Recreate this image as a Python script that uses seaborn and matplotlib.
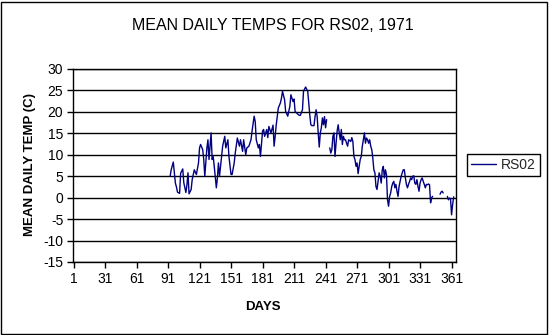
import numpy as np
import pandas as pd
import matplotlib
matplotlib.use("Agg")
import matplotlib.pyplot as plt
from matplotlib.lines import Line2D
from matplotlib.patches import Rectangle
import seaborn as sns

# ---- data ----
days = [93, 94, 96, 98, 99, 100, 102, 103, 105, 106, 108, 109, 110, 111, 113, 114,
        116, 118, 120, 121, 122, 124, 125, 126, 128, 129, 130, 131, 132, 133, 134,
        135, 137, 138, 139, 140, 142, 143, 145, 146, 148, 149, 151, 152, 154, 155,
        157, 159, 160, 162, 163, 165, 166, 168, 170, 171, 173, 174, 175, 177, 178,
        179, 181, 182, 183, 185, 186, 187, 189, 191, 192, 193, 194, 196, 198, 199,
        200, 202, 203, 205, 207, 208, 210, 211, 212, 214, 216, 217, 219, 220, 222,
        224, 225, 226, 227, 228, 230, 231, 232, 233, 234, 235, 236, 237, 238, 239,
        240, 241, 242, 243,
        245, 246, 247, 248, 249, 250, 251, 252, 253, 254, 255, 256, 257, 258, 259,
        260, 261, 262, 263, 265, 266, 267, 268, 269, 270, 271, 272, 273, 274, 275,
        276, 277, 278, 279, 280, 281, 282, 283, 284, 285, 286, 287, 288, 289, 290,
        291, 292, 293, 294, 295, 296, 297, 298, 299, 300, 301, 302, 303, 304, 305,
        306, 307, 308, 309, 310, 311, 312, 313, 314, 315, 316, 317, 318, 319, 320,
        321, 322, 323, 324, 325, 326, 327, 328, 329, 330, 331, 332, 333, 334, 335,
        336, 337, 338, 339, 340, 341, 342, 343, 344,
        350, 351, 352, 353, 354,
        357, 358, 359, 360, 361, 362, 363]

temps = [5.0, 6.5, 8.3, 3.4, 2.5, 1.3, 1.0, 5.7, 6.7, 3.5, 1.2, 3.0, 5.8, 0.9, 1.9, 4.2,
         6.5, 5.4, 8.1, 11.6, 12.4, 11.2, 8.9, 5.0, 11.6, 13.5, 8.9, 12.0, 15.1, 8.9, 9.6,
         7.3, 2.3, 4.6, 8.1, 5.0, 9.6, 12.0, 14.3, 11.6, 13.5, 9.6, 5.4, 5.4, 8.1, 10.4,
         13.9, 12.0, 13.5, 10.8, 13.5, 10.0, 11.6, 12.0, 13.5, 15.5, 19.0, 17.8, 13.5, 11.6, 12.4,
         9.6, 15.5, 15.9, 14.3, 15.9, 14.0, 16.6, 15.1, 16.9, 12.0, 14.3, 16.9, 20.9, 22.1, 23.2,
         24.8, 22.8, 20.1, 19.0, 21.3, 24.0, 22.4, 23.0, 20.1, 19.6, 19.2, 19.2, 20.5, 24.8, 25.8,
         24.8, 22.1, 19.2, 17.0, 16.8, 16.8, 18.9, 20.5, 18.9, 15.1, 11.8, 15.1, 16.3, 18.6, 17.0,
         18.9, 16.3, 18.2, np.nan,
         11.6, 10.4, 11.2, 14.3, 15.1, 9.6, 12.7, 15.5, 17.0, 15.1, 13.5, 15.9, 12.4, 14.3, 13.5,
         13.5, 12.7, 12.0, 13.5, 13.1, 14.0, 13.1, 9.6, 8.9, 7.3, 8.1, 5.6, 7.3, 8.9, 9.6,
         12.0, 13.5, 15.1, 12.7, 13.9, 13.5, 12.7, 13.5, 12.0, 11.2, 9.2, 6.5, 5.8, 2.6, 1.9,
         3.8, 5.8, 5.0, 3.4, 6.5, 7.3, 4.6, 6.5, 5.4, -0.5, -2.0, 0.3, 1.1, 2.6, 3.4,
         3.8, 2.3, 3.1, 1.5, 0.3, 2.6, 3.8, 5.0, 5.8, 6.5, 6.5, 4.6, 3.1, 2.3, 3.1,
         3.8, 4.6, 4.2, 5.0, 5.1, 3.4, 3.1, 4.2, 2.6, 1.5, 3.4, 4.2, 4.6, 3.8, 3.1,
         2.3, 3.1, 3.0, 3.2, 3.0, -1.2, 0.0, 0.3, np.nan,
         0.8, 1.3, 1.5, 1.1, np.nan,
         0.3, -0.5, -0.1, -0.3, -4.0, -1.6, 0.2]

series_name = "RS02"
title_text = "MEAN DAILY TEMPS FOR RS02, 1971"
x_label = "DAYS"
y_label = "MEAN DAILY TEMP (C)"
x_ticks = [1, 31, 61, 91, 121, 151, 181, 211, 241, 271, 301, 331, 361]
y_ticks = [-15, -10, -5, 0, 5, 10, 15, 20, 25, 30]

# ---- build frame; split into continuous segments at gaps ----
df = pd.DataFrame({"day": days, "temp": temps})
df["segment"] = df["temp"].isna().cumsum()
df = df.dropna()

sns.set_theme(style="white")
plt.rcParams["font.family"] = ["Liberation Sans", "DejaVu Sans"]

W, H = 549, 335
fig = plt.figure(figsize=(W / 100, H / 100), dpi=100)
fig.patch.set_facecolor("white")

left, right, top, bottom = 73, 456.3, 69, 262
pw, ph = right - left, bottom - top
ax = fig.add_axes([left / W, 1 - bottom / H, pw / W, ph / H])
ax.set_facecolor("white")

line_color = "#000080"
sns.lineplot(data=df, x="day", y="temp", units="segment", estimator=None,
             color=line_color, linewidth=1.0, ax=ax, legend=False)

ax.set_xlim(0.5, 365.5)
ax.set_ylim(-15, 30)
ax.set_xticks(x_ticks)
ax.set_yticks(y_ticks)
ax.set_xticklabels([str(t) for t in x_ticks])
ax.set_yticklabels([str(t) for t in y_ticks])
ax.yaxis.grid(True, color="black", linewidth=1.0)
ax.xaxis.grid(False)
ax.set_axisbelow(True)
for s in ax.spines.values():
    s.set_visible(True)
    s.set_color("black")
    s.set_linewidth(1.0)
ax.tick_params(axis="both", which="major", direction="out", length=4, width=1,
               color="black", labelsize=10, labelcolor="black", pad=3,
               bottom=True, left=True)

ax.set_xlabel(x_label, fontsize=9.5, fontweight="bold", color="black")
ax.set_ylabel(y_label, fontsize=9.5, fontweight="bold", color="black")
ax.xaxis.set_label_coords(0.5 + (263 - (left + pw / 2)) / pw, (bottom - 306.5) / ph)
ax.xaxis.label.set_va("center")
ax.yaxis.set_label_coords((30 - left) / pw, (bottom - 165) / ph)
ax.yaxis.label.set_va("center")

fig.text(273 / W, 1 - 26 / H, title_text, ha="center", va="center",
         fontsize=11.5, color="black")

handle = Line2D([0], [0], color=line_color, linewidth=1.0)
leg = ax.legend([handle], [series_name], loc="center left",
                bbox_to_anchor=(467 / W, 1 - 165 / H), bbox_transform=fig.transFigure,
                frameon=True, fancybox=False, framealpha=1, edgecolor="black",
                fontsize=10, handlelength=1.8, handletextpad=0.35, borderpad=0.3,
                borderaxespad=0)
leg.get_frame().set_linewidth(1.0)

fig.patches.append(Rectangle((1 / W, 1 / H), (546.5 - 1) / W, (333.5 - 1) / H,
                             transform=fig.transFigure, fill=False,
                             edgecolor="black", linewidth=1.0))

fig.savefig("out.png", dpi=100, facecolor="white")
